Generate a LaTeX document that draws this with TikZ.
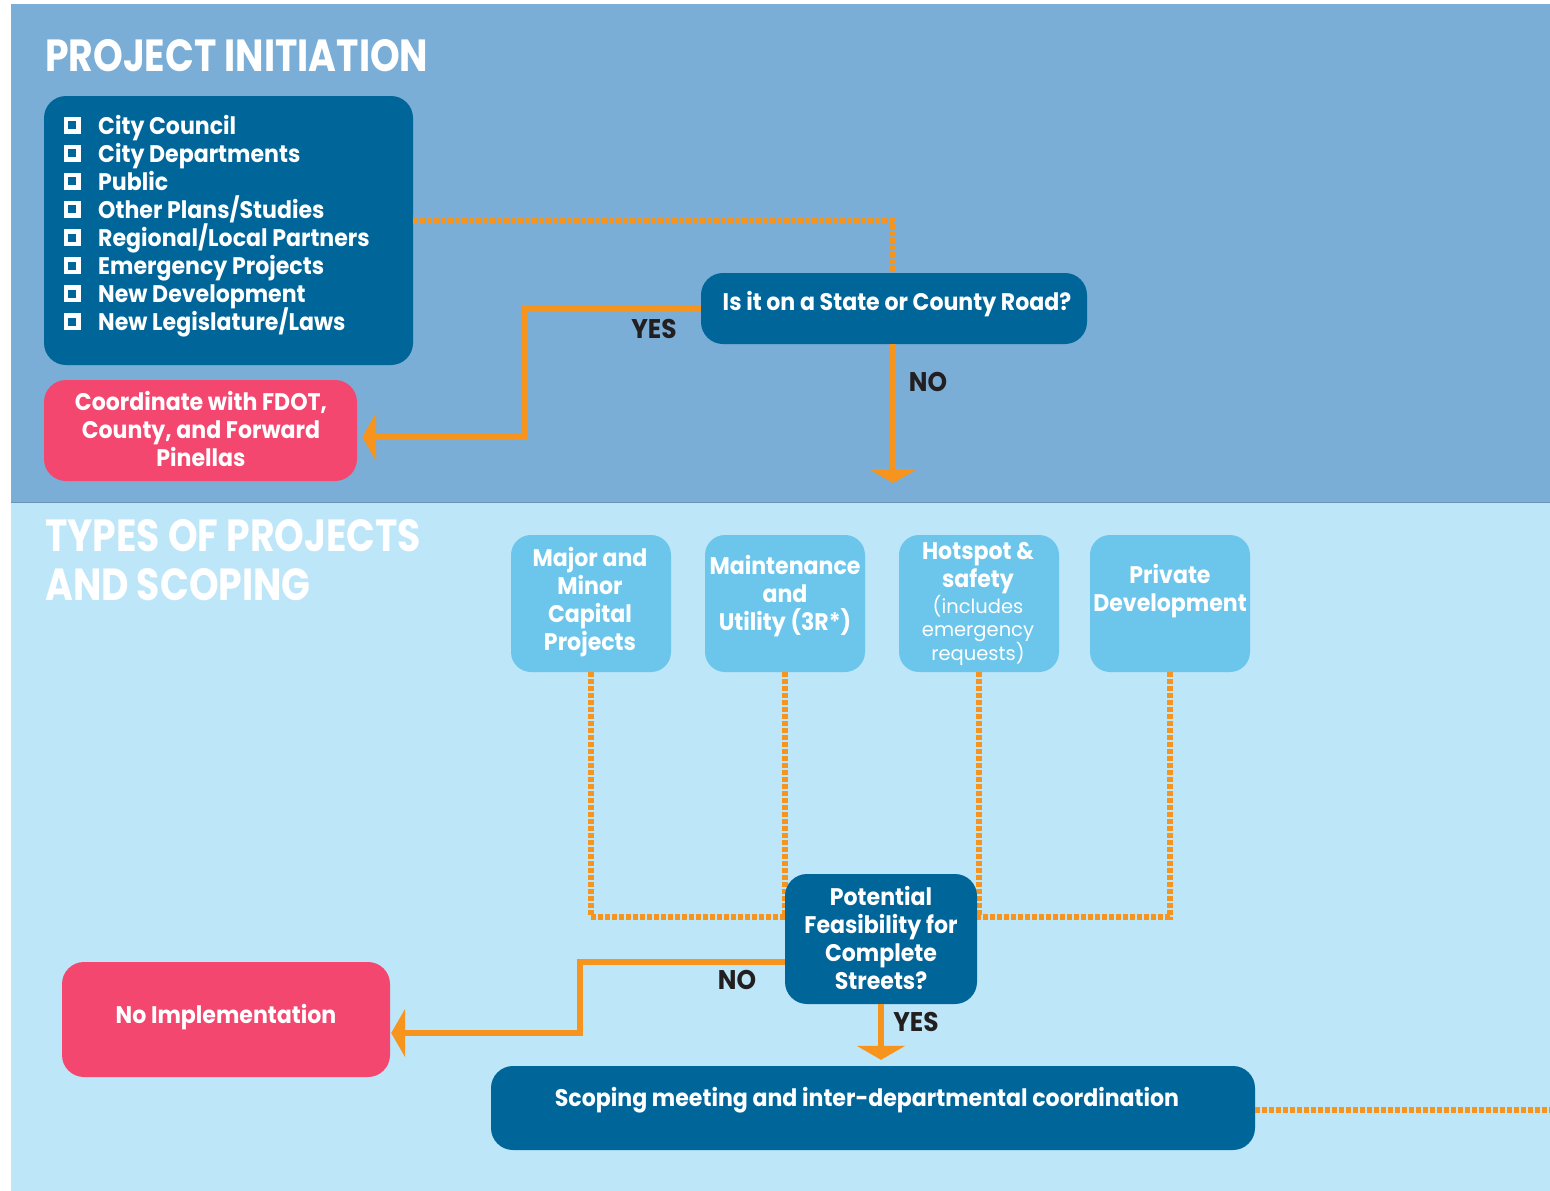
\documentclass[tikz,border=0pt]{standalone}
\usepackage{fontspec}
\setmainfont{Poppins}[BoldFeatures={FakeStretch=0.92}]
\newfontfamily\ttlfont{Poppins}[BoldFeatures={FakeStretch=0.84}]
\usetikzlibrary{arrows.meta}
\definecolor{topbg}{HTML}{7AAED6}
\definecolor{botbg}{HTML}{BDE6F9}
\definecolor{dblue}{HTML}{006599}
\definecolor{pinkc}{HTML}{F34770}
\definecolor{orangec}{HTML}{F7941E}
\definecolor{lblue}{HTML}{6CC6EC}
\definecolor{txtdark}{HTML}{231F20}
\begin{document}
\begin{tikzpicture}[x=1pt,y=-1pt,
  dbox/.style={fill=dblue, rounded corners=22pt, inner sep=0pt},
  pbox/.style={dbox, fill=pinkc},
  lbox/.style={dbox, fill=lblue, rounded corners=20pt},
  btxt/.style={text=white, align=center, inner sep=0pt, font=\bfseries\fontsize{24}{28}\selectfont},
  stxt/.style={text=white, align=center, inner sep=0pt, font=\fontsize{19.5}{23.5}\selectfont},
  oline/.style={draw=orangec, line width=6pt},
  dotline/.style={draw=orangec, line width=6pt, dash pattern=on 5pt off 2pt},
  otip/.style={-{Triangle[length=14pt,width=48pt]}},
  lab/.style={text=txtdark, inner sep=0pt, font=\bfseries\fontsize{27}{30}\selectfont},
  ttl/.style={text=white, inner sep=0pt, anchor=base west, align=left, font=\ttlfont\bfseries\fontsize{45}{49}\selectfont}
]
\useasboundingbox (0,0) rectangle (1550,1191);
\fill[white] (0,0) rectangle (1550,1191);
\fill[topbg] (11,4) rectangle (1550,502);
\fill[botbg] (11,502) rectangle (1550,1191);
\draw[color=topbg!85!black, line width=1pt] (11,502) -- (1550,502);

% titles
\node[ttl] (t1) at (45,71) {PROJECT INITIATION};
\node[ttl] (t2) at (45,600) {TYPES OF PROJECTS\\AND SCOPING};

% checklist
\node[dbox, minimum width=369pt, minimum height=269pt] (checklist) at (228.5,230.5) {};
\foreach \t [count=\i] in {City Council, City Departments, Public, Other Plans/Studies, Regional/Local Partners, Emergency Projects, New Development, New Legislature/Laws} {
  \pgfmathsetmacro{\cy}{125+(\i-1)*28.14}
  \draw[white, line width=4.5pt] (72-6.25,\cy-6.25) rectangle (72+6.25,\cy+6.25);
  \node[text=white, inner sep=0pt, anchor=base west, font=\bfseries\fontsize{24}{28}\selectfont] (item\i) at (98,\cy+9) {\t};
}

% question
\node[dbox, minimum width=386pt, minimum height=71pt] (q) at (894,308.5) {};
\node[btxt] (qt) at (897,304) {Is it on a State or County Road?};

% coordinate box
\node[pbox, minimum width=313pt, minimum height=101pt] (coord) at (200.5,430.5) {};
\node[btxt] (coordt) at (201,429) {Coordinate with FDOT,\\County, and Forward\\Pinellas};

% connectors top
\draw[dotline] ([yshift=9.5pt]checklist.east) -| ([xshift=-1pt]q.north);
\draw[oline, otip] (q.west) -- (525,308.5) -- (525,437) -- ([xshift=5pt,yshift=-6.5pt]coord.east);
\coordinate (noend) at (893,483);
\draw[oline, otip] ([xshift=-1pt]q.south) -- (noend);
\node[lab] (yes1) at (654,329) {YES};
\node[lab] (no1) at (928,382) {NO};

% project type boxes
\node[lbox, minimum width=160pt, minimum height=137pt] (b1) at (591,603.5) {};
\node[lbox, minimum width=160pt, minimum height=137pt] (b2) at (785,603.5) {};
\node[lbox, minimum width=160pt, minimum height=137pt] (b3) at (979,603.5) {};
\node[lbox, minimum width=160pt, minimum height=137pt] (b4) at (1170,603.5) {};
\node[btxt] (b1t) at (590,602) {Major and\\Minor\\Capital\\Projects};
\node[btxt] (b2t) at (785,596) {Maintenance\\and\\Utility (3R*)};
\node[btxt] (b3t) at (978,568) {Hotspot \&\\safety};
\node[stxt] (b3s) at (978,630) {(includes\\emergency\\requests)};
\node[btxt] (b4t) at (1170,591) {Private\\Development};

% dotted connectors
\coordinate (jn) at (0,917);
\draw[dotline] (b1.south) |- (b4.south |- jn) -- (b4.south);
\draw[dotline] (b2.south) -- (b2.south |- jn);
\draw[dotline] (b3.south) -- (b3.south |- jn);

% potential
\node[dbox, minimum width=192pt, minimum height=130pt] (pf) at (881,939) {};
\node[btxt] (pft) at (881,938) {Potential\\Feasibility for\\Complete\\Streets?};

% no implementation
\node[pbox, minimum width=328pt, minimum height=115pt] (noimpl) at (226,1019.5) {};
\node[btxt] (noimplt) at (226,1017) {No Implementation};

% scoping
\node[dbox, minimum width=764pt, minimum height=84pt] (scope) at (873,1108) {};
\node[btxt] (scopet) at (867,1100) {Scoping meeting and inter-departmental coordination};

% connectors bottom
\draw[oline, otip] ([yshift=-23pt]pf.west) -- (580,962) -- (580,1033) -- ([xshift=1pt,yshift=-13.5pt]noimpl.east);
\draw[oline, otip] (pf.south) -- ([xshift=8pt,yshift=6pt]scope.north);
\node[lab] (no2) at (737,980) {NO};
\node[lab] (yes2) at (916,1022) {YES};
\coordinate (rt) at (1550,1110);
\draw[dotline] ([yshift=-2pt]scope.east) -- (rt);
\end{tikzpicture}
\end{document}
